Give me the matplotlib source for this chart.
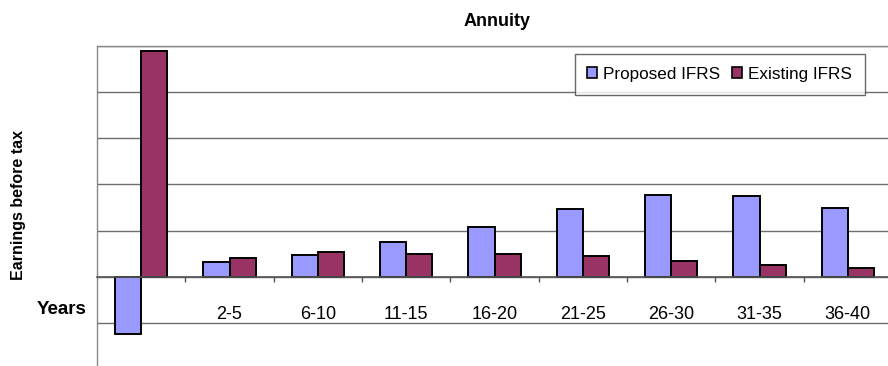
import matplotlib
matplotlib.use("Agg")
import matplotlib.pyplot as plt
import matplotlib.transforms as mtransforms
import numpy as np

plt.rcParams['font.family'] = ['Liberation Sans', 'DejaVu Sans']

# Year bands and earnings before tax (relative units) under each standard
years = ["1", "2-5", "6-10", "11-15", "16-20", "21-25", "26-30", "31-35", "36-40"]
proposed_ifrs = [-1.24, 0.31, 0.47, 0.75, 1.08, 1.47, 1.77, 1.74, 1.50]
existing_ifrs = [4.90, 0.40, 0.53, 0.49, 0.50, 0.44, 0.34, 0.26, 0.18]

W, H = 888, 366
fig = plt.figure(figsize=(W / 100, H / 100), dpi=100)
ax = fig.add_axes([97 / W, -3 / H, (892 - 97) / W, (369 - 46) / H])

x = np.arange(len(years))
bw = 0.295
ax.bar(x - bw / 2, proposed_ifrs, bw, color='#9999FF', edgecolor='black',
       linewidth=1.4, label='Proposed IFRS', zorder=2)
ax.bar(x + bw / 2, existing_ifrs, bw, color='#993366', edgecolor='black',
       linewidth=1.4, label='Existing IFRS', zorder=2)

ax.set_xlim(-0.5, len(years) - 0.5)
ax.set_ylim(-2, 5)
ax.set_axisbelow(True)

# horizontal gridlines, no value labels
ax.set_yticks(np.arange(-2, 6))
ax.tick_params(axis='y', length=0, labelleft=False)
ax.grid(axis='y', color='#6e6e6e', linewidth=1.0)

# category axis running along zero
ax.spines['bottom'].set_position(('data', 0))
ax.spines['bottom'].set_color('#555555')
ax.spines['bottom'].set_linewidth(1.2)
for s in ('left', 'top', 'right'):
    ax.spines[s].set_color('#888888')
    ax.spines[s].set_linewidth(1.0)
ax.set_xticks(x)
ax.set_xticklabels(years, fontsize=13)
ax.set_xticks(np.arange(0.5, len(years) - 0.5), minor=True)
ax.tick_params(axis='x', which='major', length=0, pad=21)
ax.tick_params(axis='x', which='minor', length=3.5, direction='out',
               color='#555555', width=1.0)

# the first band's label sits behind the negative bar
first = ax.get_xticklabels()[0]
first.set_transform(first.get_transform() +
                    mtransforms.ScaledTranslation(-5 / 100, 0, fig.dpi_scale_trans))

fig.text(497 / W, 1 - 21 / H, "Annuity",
         ha='center', va='center', fontsize=13, fontweight='bold')
fig.text(18 / W, 1 - 205 / H, "Earnings before tax", rotation=90,
         ha='center', va='center', fontsize=11.5, fontweight='bold')
fig.text(87 / W, 1 - 309 / H, "Years", ha='right', va='center',
         fontsize=13.5, fontweight='bold')

leg = ax.legend(loc='upper right', bbox_to_anchor=(865 / W, 1 - 54 / H),
                bbox_transform=fig.transFigure, ncol=2, fontsize=12.3,
                frameon=True, fancybox=False, shadow=False,
                handlelength=0.58, handleheight=0.58, handletextpad=0.35,
                columnspacing=0.7, borderpad=0.75, borderaxespad=0)
leg.get_frame().set_edgecolor('#444444')
leg.get_frame().set_linewidth(1.0)
for p in leg.get_patches():
    p.set_linewidth(1.2)

fig.savefig("out.png", dpi=100)
